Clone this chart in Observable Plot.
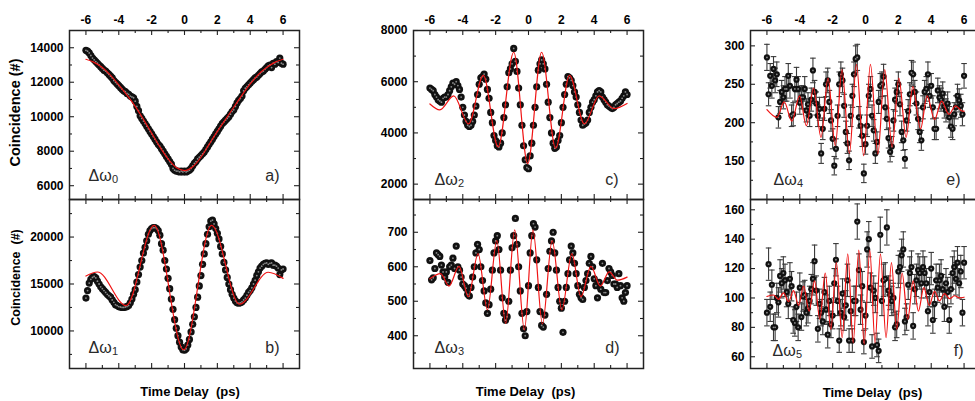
<!DOCTYPE html>
<html><head><meta charset="utf-8">
<script src="https://cdn.jsdelivr.net/npm/d3@7"></script>
<script src="https://cdn.jsdelivr.net/npm/@observablehq/plot@0.6"></script>
<style>
html,body{margin:0;padding:0;background:#fff;}
#chart{position:relative;width:975px;height:401px;overflow:hidden;background:#fff;}
</style></head><body><div id="chart"></div><script>
// ---------- data ----------
const delay = [-6,-5.9,-5.8,-5.7,-5.6,-5.5,-5.4,-5.3,-5.2,-5.1,-5,-4.9,-4.8,-4.7,-4.6,-4.5,-4.4,-4.3,-4.2,-4.1,-4,-3.9,-3.8,-3.7,-3.6,-3.5,-3.4,-3.3,-3.2,-3.1,-3,-2.9,-2.8,-2.7,-2.6,-2.5,-2.4,-2.3,-2.2,-2.1,-2,-1.9,-1.8,-1.7,-1.6,-1.5,-1.4,-1.3,-1.2,-1.1,-1,-0.9,-0.8,-0.7,-0.6,-0.5,-0.4,-0.3,-0.2,-0.1,0,0.1,0.2,0.3,0.4,0.5,0.6,0.7,0.8,0.9,1,1.1,1.2,1.3,1.4,1.5,1.6,1.7,1.8,1.9,2,2.1,2.2,2.3,2.4,2.5,2.6,2.7,2.8,2.9,3,3.1,3.2,3.3,3.4,3.5,3.6,3.7,3.8,3.9,4,4.1,4.2,4.3,4.4,4.5,4.6,4.7,4.8,4.9,5,5.1,5.2,5.3,5.4,5.5,5.6,5.7,5.8,5.9,6];

const xTickLabels = [-6,-4,-2,0,2,4,6];
const xMinorTicks = [-5,-3,-1,1,3,5];

const countsA = [13850,13800,13700,13550,13400,13300,13200,13100,13000,12900,
 12800,12700,12650,12550,12450,12350,12250,12100,12000,11900,
 11800,11700,11600,11500,11450,11350,11300,11200,11150,11100,
 10900,10600,10350,10050,9900,9750,9600,9450,9300,9150,
 9000,8850,8700,8550,8400,8300,8150,8000,7850,7700,
 7550,7400,7250,7000,6900,6850,6850,6800,6850,6800,
 6850,6800,6850,6900,7000,7150,7300,7400,7550,7650,
 7750,7850,7950,8100,8250,8400,8550,8700,8850,9000,
 9150,9300,9450,9600,9700,9800,9900,10000,10150,10300,
 10400,10600,10800,10950,11050,11200,11500,11650,11750,11850,
 11950,12050,12150,12250,12300,12400,12500,12600,12650,12750,
 12850,12950,13000,12850,13100,13050,13200,13150,13400,13100,
 13050];
const fitAx = [-6,-5.5,-5,-4.5,-4,-3.5,-3,-2.5,-2,-1.5,-1,-0.5,0,0.5,1,1.5,2,2.5,3,3.5,4,4.5,5,5.5,6];
const fitAy = [13330,13150,12850,12400,11850,11250,10600,9850,9050,8250,7550,7050,6880,7100,7650,8400,9150,9850,10550,11250,11900,12450,12850,13150,13330];

const countsB = [13500,14300,15100,15500,15700,15800,15650,15300,15000,14700,
 14500,14300,14100,13900,13750,13600,13300,13050,12800,12700,
 12600,12550,12500,12500,12550,12600,12700,13000,13400,13900,
 14400,15200,16000,16800,17500,18300,18900,19600,20300,20700,
 20900,21000,21000,20900,20700,20200,19300,18600,17500,16600,
 15600,14500,13400,12300,11200,10300,9500,8800,8300,8000,
 7950,8100,8500,9100,9900,10700,11500,12500,13600,14800,
 15900,17100,18200,19300,20300,21100,21700,21800,21400,20900,
 20400,19800,19000,18200,17300,16500,15700,15000,14400,13900,
 13500,13200,13000,12950,13000,13100,13300,13500,13800,14100,
 14300,14600,15000,15400,15900,16300,16700,16900,17100,17200,
 17250,17100,17200,17250,17000,17000,16900,16700,16000,16500,
 16600];
const fitBx = [-6,-5.3,-3.55,-1.85,-0.05,1.65,3.35,5.1,6];
const fitBy = [15850,16280,12700,21250,8000,21250,12850,16250,15600];

const countsC = [5750,5700,5650,5500,5400,5300,5250,5200,5350,5400,
 5400,5500,5650,5800,5950,5900,6000,5850,5700,5400,
 5000,4700,4450,4300,4250,4300,4450,4700,5050,5500,
 5900,6150,6200,6300,6100,5700,5350,4800,4400,3900,
 3700,3500,3450,3600,4000,4600,5100,5800,6350,6500,
 6700,7300,6800,6400,5750,5100,4300,3500,2950,2650,
 2600,3100,3600,4300,5000,5800,6450,6700,6850,6700,
 6500,5900,5200,4600,4000,3600,3400,3450,3700,3900,
 4400,5000,5500,5900,6200,6150,6050,5850,5600,5400,
 5100,4800,4500,4300,4350,4400,4500,4800,5000,5200,
 5300,5450,5600,5650,5600,5400,5300,5200,5100,5050,
 5000,4950,5000,5100,5150,5200,5250,5350,5450,5600,
 5500];
const fitCx = [-6,-5.4,-4.55,-3.65,-2.75,-1.85,-0.9,-0.05,0.8,1.65,2.5,3.4,4.3,5.2,6];
const fitCy = [5130,4900,5450,4350,6250,3450,7150,2800,7150,3400,6250,4350,5450,4950,5150];

const countsD = [618,562,568,595,640,635,630,605,585,570,
 585,555,600,605,625,595,660,600,590,570,
 550,545,538,520,515,540,570,600,640,665,
 650,600,560,530,495,465,490,535,590,640,
 675,690,650,590,510,465,445,455,500,590,
 655,690,740,665,600,530,465,420,400,470,
 545,640,690,725,715,620,540,470,430,425,
 460,520,595,645,675,700,640,590,540,500,
 480,410,500,540,580,620,660,640,610,580,
 545,520,510,505,540,560,580,610,630,600,
 565,545,510,555,535,610,525,525,560,595,
 585,575,550,550,540,580,545,510,500,525,
 545];
const fitDx = [-6,-5.35,-4.84,-4.23,-3.66,-3.07,-2.5,-1.93,-1.39,-0.84,-0.25,0.27,0.85,1.44,2.03,2.64,3.19,3.8,4.37,4.91,5.42,6];
const fitDy = [565,580,544,601,513,638,475,676,436,707,417,707,434,676,475,638,513,601,544,585,561,570];

const countsE = [285,237,261,248,270,255,263,207,227,240,
 233,244,244,261,248,209,211,244,256,244,
 226,233,233,244,216,224,209,230,268,240,
 225,209,218,160,192,218,250,255,227,203,
 179,144,166,209,250,263,255,222,188,173,
 151,209,235,263,283,285,207,196,183,134,
 172,196,235,244,209,190,160,175,227,248,
 250,260,220,205,180,162,169,203,230,240,
 250,224,188,177,153,203,215,237,265,263,
 240,225,205,188,177,220,240,244,263,235,
 248,220,192,192,242,233,230,238,221,216,
 225,207,195,192,211,220,235,229,222,211,
 261];
const errorE = [17,15,16,16,16,16,16,14,15,15,
 15,16,16,16,16,14,15,16,16,16,
 15,15,15,16,15,15,14,15,16,15,
 15,14,15,13,14,15,16,16,15,14,
 13,12,13,14,16,16,16,15,14,13,
 12,14,15,16,17,17,14,14,14,12,
 13,14,15,16,14,14,13,13,15,16,
 16,16,15,14,13,13,13,14,15,15,
 16,15,14,13,12,14,15,15,16,16,
 15,15,14,14,13,15,15,16,16,15,
 16,15,14,14,16,15,15,15,15,15,
 15,14,14,14,15,15,15,15,15,15,
 16];
const fitEx = [-6,-5.39,-4.95,-4.48,-4.01,-3.6,-3.16,-2.71,-2.28,-1.84,-1.43,-0.98,-0.55,-0.11,0.3,0.75,1.17,1.62,2.03,2.47,2.88,3.35,3.75,4.2,4.63,5.08,5.48,5.89,6];
const fitEy = [217,207,227,202,235,196,245,181,258,170,269,160,276,157,276,159,269,168,258,181,247,192,235,204,228,211,222,215,215];

const countsF = [90,123,94,109,80,80,100,97,115,110,
 117,112,104,96,113,108,85,83,94,80,
 107,87,101,102,90,93,98,106,113,125,
 105,79,96,90,84,104,92,75,98,82,
 88,110,126,98,71,90,103,87,95,112,
 71,91,71,98,98,152,119,92,108,70,
 88,133,140,107,67,105,100,68,64,143,
 98,112,113,148,105,102,98,100,80,82,
 118,121,129,133,84,87,109,117,121,81,
 106,112,119,117,110,121,117,110,91,104,
 120,85,96,112,107,112,115,106,94,110,
 104,85,106,117,121,113,124,110,118,90,
 124];
const errorF = [9,11,10,10,9,9,10,10,11,10,
 11,11,10,10,11,10,9,9,10,9,
 10,9,10,10,9,10,10,10,11,11,
 10,9,10,9,9,10,10,9,10,9,
 9,10,11,10,8,9,10,9,10,11,
 8,10,8,10,10,12,11,10,10,8,
 9,12,12,10,8,10,10,8,8,12,
 10,11,11,12,10,10,10,10,9,9,
 11,11,11,12,9,9,10,11,11,9,
 10,11,11,11,10,11,11,10,10,10,
 11,9,10,11,10,11,11,10,10,10,
 10,9,10,11,11,11,11,10,11,9,
 11];
const fitFx = [-6,-5.6,-5.3,-4.99,-4.68,-4.38,-4.07,-3.77,-3.43,-3.1,-2.78,-2.45,-2.11,-1.77,-1.42,-1.08,-0.75,-0.41,-0.08,0.26,0.58,0.91,1.25,1.58,1.9,2.23,2.57,2.9,3.22,3.55,3.88,4.2,4.5,4.81,5.12,5.42,5.72,6];
const fitFy = [101,102,99,103.5,97.5,105,95,108,91,111.6,85.5,117,78.6,124,73,130,69.5,132.5,68.4,132.5,69.5,130,73,124,78.6,117,85.5,111.6,91,107,95,104.5,98,103,99.5,101.5,100,100.5];

const panelSymbol = "Δω";
const panelSubscripts = ["0","1","2","3","4","5"];
const panelLetters = ["a)","b)","c)","d)","e)","f)"];
const yAxisTitle = "Coincidence (#)";
const yAxisTitle2 = "Coincidence  (#)";
const xAxisTitle = "Time Delay  (ps)";

// ---------- layout ----------
const FONT = "'Liberation Sans', Arial, Helvetica, sans-serif";
const INK = "#222";
const panels = [
  {i:0, row:0, left:69,  top:30,  bottom:199, yDomain:[5200,15000], yMajor:[6000,8000,10000,12000,14000], yMinor:[7000,9000,11000,13000], counts:countsA, fx:fitAx, fy:fitAy, sdx:19, sdy:-24, ldx:-20, ldy:-24},
  {i:1, row:1, left:69,  top:199, bottom:368, yDomain:[6000,24000], yMajor:[10000,15000,20000], yMinor:[7500,12500,17500,22500], counts:countsB, fx:fitBx, fy:fitBy, sdx:19, sdy:-21, ldx:-20, ldy:-21, tdx:5.5, tdy:23.5},
  {i:2, row:0, left:413, top:30,  bottom:199, yDomain:[1400,8000], yMajor:[2000,4000,6000,8000], yMinor:[3000,5000,7000], counts:countsC, fx:fitCx, fy:fitCy, sdx:21, sdy:-20, ldx:-25, ldy:-20},
  {i:3, row:1, left:413, top:199, bottom:368, yDomain:[305,795], yMajor:[400,500,600,700], yMinor:[350,450,550,650,750], counts:countsD, fx:fitDx, fy:fitDy, sdx:21, sdy:-21, ldx:-24, ldy:-21, tdx:-3, tdy:23},
  {i:4, row:0, left:750, top:30,  bottom:199, yDomain:[100,320], yMajor:[150,200,250,300], yMinor:[125,175,225,275], counts:countsE, err:errorE, fx:fitEx, fy:fitEy, sdx:23, sdy:-20, ldx:-20, ldy:-20},
  {i:5, row:1, left:750, top:199, bottom:368, yDomain:[52,167], yMajor:[60,80,100,120,140,160], yMinor:[70,90,110,130,150], counts:countsF, err:errorF, fx:fitFx, fy:fitFy, sdx:22, sdy:-18, ldx:-17, ldy:-18, tdx:7, tdy:24.5}
];

const capSymbol = {draw(ctx, size){const w = Math.sqrt(size/Math.PI); ctx.moveTo(-w,0); ctx.lineTo(w,0);}};

function drawPanel(p){
  const fw = 230, fh = p.bottom - p.top;
  const W = p.left + fw + 5;
  const tick = {stroke: INK, strokeWidth: 1.1};
  const marks = [
    Plot.ruleX(xTickLabels, {x: d=>d, insetBottom: fh-5, ...tick}),
    Plot.ruleX(xTickLabels, {x: d=>d, insetTop: fh-5, ...tick}),
    Plot.ruleX(xMinorTicks, {x: d=>d, insetBottom: fh-3, ...tick}),
    Plot.ruleX(xMinorTicks, {x: d=>d, insetTop: fh-3, ...tick}),
    Plot.ruleY(p.yMajor, {y: d=>d, insetRight: fw-5, ...tick}),
    Plot.ruleY(p.yMajor, {y: d=>d, insetLeft: fw-5, ...tick}),
    Plot.ruleY(p.yMinor, {y: d=>d, insetRight: fw-3, ...tick}),
    Plot.ruleY(p.yMinor, {y: d=>d, insetLeft: fw-3, ...tick}),
    Plot.axisY(p.yMajor, {anchor:"left", tickSize:0, tickPadding:6, tickFormat: d=>String(d), fontSize:12, fontWeight:"bold", label:null, fill:"#000"})
  ];
  if (p.row === 0) marks.push(Plot.axisX(xTickLabels, {anchor:"top", tickSize:0, tickPadding:7, tickFormat: d=>String(d), fontSize:12, fontWeight:"bold", label:null, fill:"#000"}));
  if (p.err) {
    const e = p.err;
    marks.push(Plot.ruleX(p.counts, {x: delay, y1: (d,i)=>d-e[i], y2: (d,i)=>d+e[i], stroke:"#3a3a3a", strokeWidth:1.1}));
    marks.push(Plot.dot(p.counts, {x: delay, y: (d,i)=>d+e[i], symbol: capSymbol, r: 2.8, stroke:"#3a3a3a", strokeWidth:1.1, fill:"none"}));
    marks.push(Plot.dot(p.counts, {x: delay, y: (d,i)=>d-e[i], symbol: capSymbol, r: 2.8, stroke:"#3a3a3a", strokeWidth:1.1, fill:"none"}));
  }
  const r = p.err ? 3.1 : 3.6;
  marks.push(Plot.dot(p.counts, {x: delay, y: d=>d, r, fill:"#111"}));
  marks.push(Plot.dot(p.counts, {x: delay, y: d=>d, r: 0.9, fill:"#8a8a8a"}));
  marks.push(Plot.line(p.fy, {x: p.fx, y: d=>d, stroke:"#f01414", strokeWidth:1.2, curve:"monotone-x"}));
  marks.push(Plot.frame({stroke: INK, strokeWidth: 1.5}));
  const labelFont = "'Liberation Sans', 'DejaVu Sans', sans-serif";
  marks.push(Plot.text([panelSymbol], {text: d=>d, frameAnchor:"bottom-left", textAnchor:"start", lineAnchor:"middle", dx:p.sdx, dy:p.sdy, fontSize:16, fontWeight:"normal", fill:"#2a2a2a", fontFamily: labelFont}));
  marks.push(Plot.text([panelSubscripts[p.i]], {text: d=>d, frameAnchor:"bottom-left", textAnchor:"start", lineAnchor:"middle", dx:p.sdx + 23.5, dy:p.sdy + 4, fontSize:11, fontWeight:"normal", fill:"#2a2a2a", fontFamily: labelFont}));
  marks.push(Plot.text([panelLetters[p.i]], {text: d=>d, frameAnchor:"bottom-right", textAnchor:"end", lineAnchor:"middle", dx:p.ldx, dy:p.ldy, fontSize:16, fontWeight:"normal", fill:"#2a2a2a"}));
  if (p.row === 1) marks.push(Plot.text([xAxisTitle], {text: d=>d, frameAnchor:"bottom", lineAnchor:"middle", dx:p.tdx, dy:p.tdy, fontSize:13, fontWeight:"bold", fill:"#000"}));
  if (p.i === 0) marks.push(Plot.text([yAxisTitle], {text: d=>d, frameAnchor:"left", rotate:-90, textAnchor:"middle", lineAnchor:"middle", dx:-54, dy:-2.5, fontSize:14.5, fontWeight:"bold", fill:"#000"}));
  if (p.i === 1) marks.push(Plot.text([yAxisTitle2], {text: d=>d, frameAnchor:"left", rotate:-90, textAnchor:"middle", lineAnchor:"middle", dx:-54, dy:-6.5, fontSize:12.5, fontWeight:"bold", fill:"#000"}));

  const svg = Plot.plot({
    width: W, height: 401,
    marginLeft: p.left, marginRight: 5, marginTop: p.top, marginBottom: 401 - p.bottom,
    x: {domain: [-7, 7], axis: null},
    y: {domain: p.yDomain, axis: null},
    style: {position:"absolute", left:"0px", top:"0px", maxWidth:"none", background:"transparent", fontFamily: FONT, overflow:"visible"},
    marks
  });
  document.getElementById("chart").appendChild(svg);
}
panels.forEach(drawPanel);
</script></body></html>
